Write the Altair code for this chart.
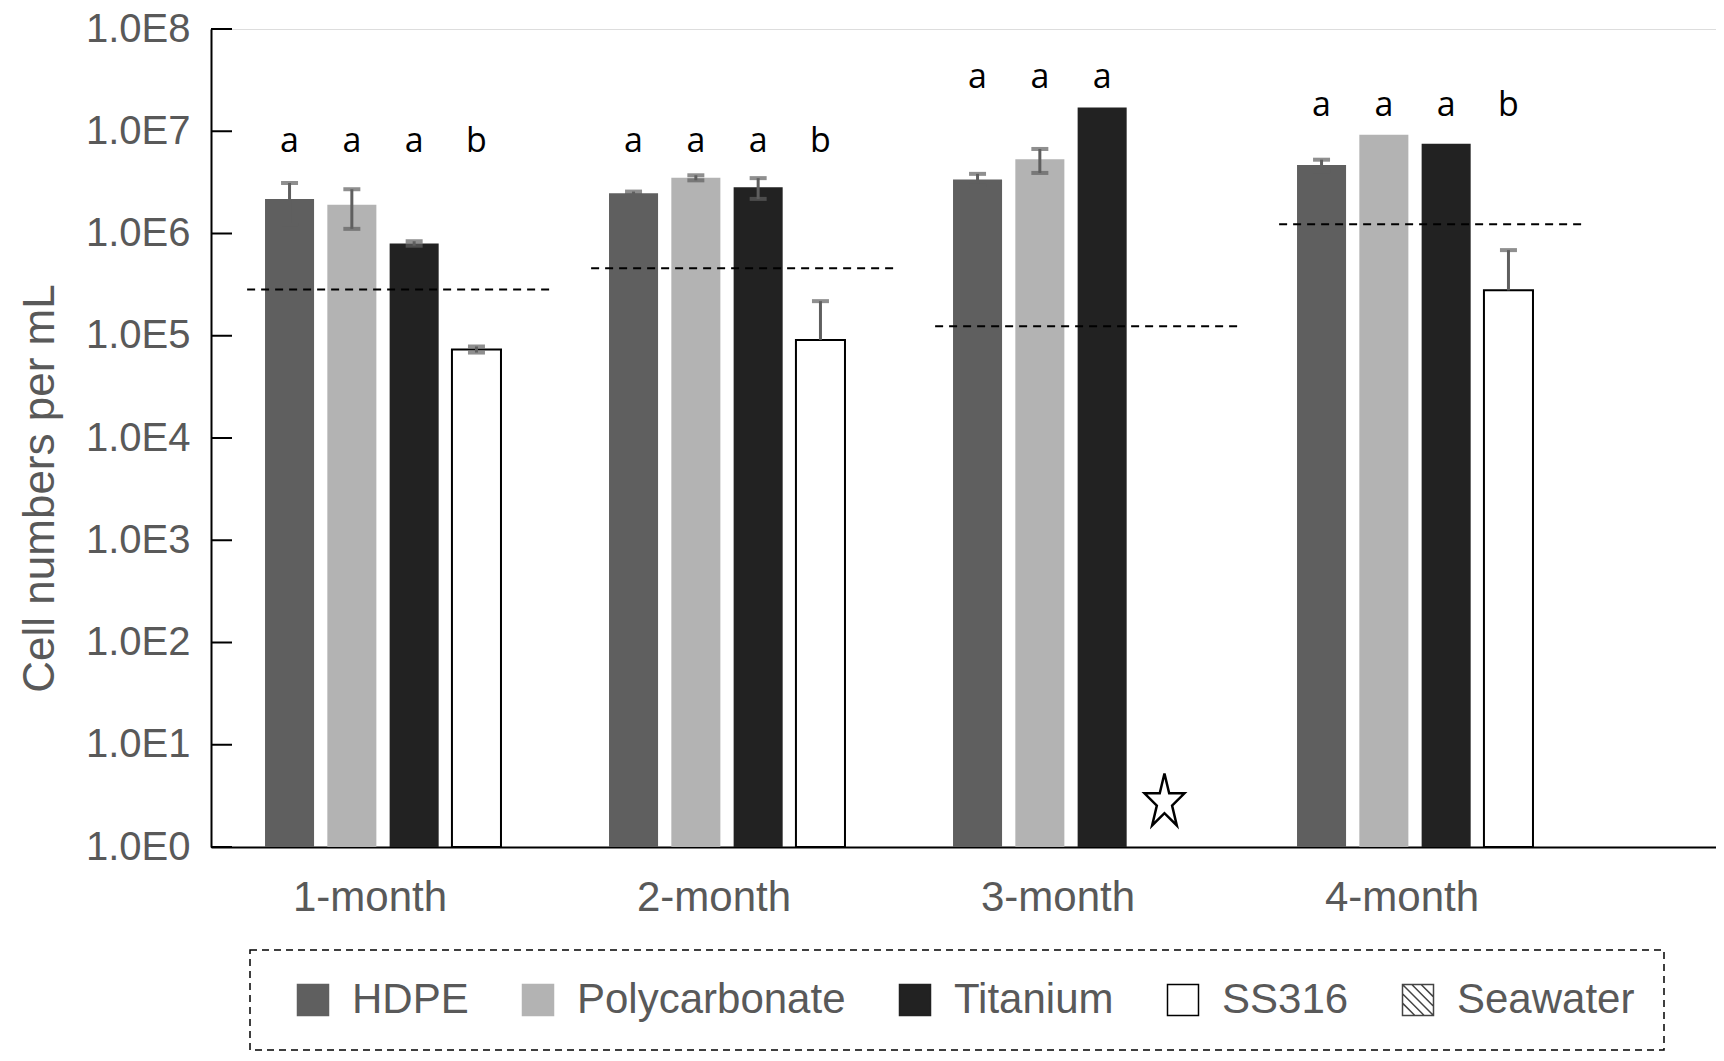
import altair as alt
import pandas as pd

# ---------------- data ----------------
months = ["1-month", "2-month", "3-month", "4-month"]
materials = ["HDPE", "Polycarbonate", "Titanium", "SS316"]
legend_items = ["HDPE", "Polycarbonate", "Titanium", "SS316", "Seawater"]

hdpe_mean = [2.17e6, 2.47e6, 3.38e6, 4.67e6]
pc_mean = [1.91e6, 3.51e6, 5.31e6, 9.25e6]
ti_mean = [8.0e5, 2.83e6, 1.71e7, 7.55e6]
ss_mean = [7.35e4, 9.1e4, None, 2.78e5]

hdpe_err = [0.95e6, 0.1e6, 0.45e6, 0.6e6]
pc_err = [0.8e6, 0.2e6, 1.4e6, 0.0]
ti_err = [0.4e5, 0.65e6, 0.0, 0.0]
ss_err = [0.5e4, 1.27e5, None, 4.1e5]

seawater = [2.84e5, 4.56e5, 1.24e5, 1.23e6]

hdpe_letters = ["a", "a", "a", "a"]
pc_letters = ["a", "a", "a", "a"]
ti_letters = ["a", "a", "a", "a"]
ss_letters = ["b", "b", "", "b"]
letter_y = [6.2e6, 6.3e6, 2.65e7, 1.42e7]

star_month = "3-month"
star_material = "SS316"
star_value = 2.92

y_ticks = [1, 10, 100, 1e3, 1e4, 1e5, 1e6, 1e7, 1e8]

fill_colors = ["#5f5f5f", "#b3b3b3", "#222222", "#ffffff", "#ffffff"]
stroke_colors = ["#5f5f5f", "#b3b3b3", "#222222", "#000000", "#444444"]
hatch = ("M-1,-1L1,-1L1,1L-1,1Z"
         "M-1,-1L1,1"
         "M-0.4,-1L1,0.4"
         "M0.2,-1L1,-0.2"
         "M-1,-0.4L0.4,1"
         "M-1,0.2L-0.2,1")
shapes = ["square", "square", "square", "square", hatch]
star_path = ("M0,-1.238L0.2245,-0.292L0.951,-0.292L0.3633,0.293L0.588,1.238L0,0.654"
             "L-0.588,1.238L-0.3633,0.293L-0.951,-0.292L-0.2245,-0.292Z")

# ---------------- tables ----------------
means = {"HDPE": hdpe_mean, "Polycarbonate": pc_mean, "Titanium": ti_mean, "SS316": ss_mean}
errs = {"HDPE": hdpe_err, "Polycarbonate": pc_err, "Titanium": ti_err, "SS316": ss_err}
lets = {"HDPE": hdpe_letters, "Polycarbonate": pc_letters, "Titanium": ti_letters, "SS316": ss_letters}

bar_rows, err_rows, cap_rows, text_rows = [], [], [], []
for mat in materials:
    for i, mo in enumerate(months):
        v = means[mat][i]
        e = errs[mat][i]
        if v is not None:
            bar_rows.append({"month": mo, "material": mat, "value": v})
            if e:
                hi = v + e
                lo = v - e if v - e > 0 else v
                err_rows.append({"month": mo, "material": mat, "lo": lo, "hi": hi})
                cap_rows.append({"month": mo, "material": mat, "cap": hi})
                if v - e > 0:
                    cap_rows.append({"month": mo, "material": mat, "cap": lo})
        if lets[mat][i]:
            text_rows.append({"month": mo, "material": mat, "letter": lets[mat][i], "ly": letter_y[i]})

bars_df = pd.DataFrame(bar_rows)
err_df = pd.DataFrame(err_rows)
cap_df = pd.DataFrame(cap_rows)
text_df = pd.DataFrame(text_rows)
sea_df = pd.DataFrame({"month": months, "sea": seawater})
star_df = pd.DataFrame([{"month": star_month, "material": star_material, "value": star_value}])
legend_df = pd.DataFrame({"material": legend_items, "value": [1] * len(legend_items)})
tick_df = pd.DataFrame({"t": y_ticks})
frame_df = pd.DataFrame({"k": [0]})

GRAY = "#595959"
FONT = "Liberation Sans"

x_scale = alt.Scale(domain=months, paddingInner=0, paddingOuter=0.1875, align=0)
xo_scale = alt.Scale(domain=materials, paddingInner=0.213, paddingOuter=0.867)
y_scale = alt.Scale(type="log", domain=[1, 1e8], nice=False)
fill_scale = alt.Scale(domain=legend_items, range=fill_colors)
stroke_scale = alt.Scale(domain=legend_items, range=stroke_colors)
shape_scale = alt.Scale(domain=legend_items, range=shapes)

x_axis = alt.Axis(title=None, ticks=False, domainColor="black", domainWidth=2,
                  labelFontSize=42, labelColor=GRAY, labelFont=FONT,
                  labelPadding=30, labelOffset=-13, labelAngle=0)
y_axis = alt.Axis(title="Cell numbers per mL", values=y_ticks, ticks=False, grid=False,
                  domainColor="black", domainWidth=2,
                  labelExpr="'1.0E' + round(log(datum.value)/LN10)",
                  labelFontSize=40, labelColor=GRAY, labelFont=FONT, labelPadding=21,
                  labelFlush=False, labelOverlap=False,
                  titleFontSize=44, titleColor=GRAY, titleFont=FONT, titleFontWeight="normal",
                  titleX=-158, titleY=459, titleBaseline="alphabetic", titleAngle=270)

leg = alt.Legend(orient="none", legendX=51, legendY=920, direction="horizontal",
                 symbolSize=961, symbolStrokeWidth=1.5, symbolOpacity=1,
                 labelFontSize=42, labelColor=GRAY, labelFont=FONT, labelLimit=600,
                 labelOffset=18, columnPadding=48, padding=30)

bars = alt.Chart(bars_df).mark_bar(strokeWidth=2).encode(
    x=alt.X("month:N", scale=x_scale, axis=x_axis, sort=months),
    xOffset=alt.XOffset("material:N", scale=xo_scale),
    y=alt.Y("value:Q", scale=y_scale, axis=y_axis, stack=None),
    fill=alt.Fill("material:N", scale=fill_scale, title=None, legend=leg),
    stroke=alt.condition("datum.material === 'SS316'", alt.value("black"), alt.value("transparent")),
)

sea = alt.Chart(sea_df).mark_rule(color="black", strokeWidth=2, strokeDash=[8, 6]).encode(
    x=alt.X("month:N", bandPosition=0.105),
    x2=alt.X2("month", bandPosition=0.988),
    y=alt.Y("sea:Q"),
)

errbars = alt.Chart(err_df).mark_rule(color="#5f5f5f", strokeWidth=3).encode(
    x=alt.X("month:N"),
    xOffset=alt.XOffset("material:N"),
    y=alt.Y("lo:Q"),
    y2="hi:Q",
)

caps = alt.Chart(cap_df).mark_tick(color="#5f5f5f", thickness=4, size=17, orient="horizontal").encode(
    x=alt.X("month:N"),
    xOffset=alt.XOffset("material:N"),
    y=alt.Y("cap:Q"),
)

letters_layer = alt.Chart(text_df).mark_text(font="Open Sans", fontSize=34, color="black",
                                             baseline="alphabetic").encode(
    x=alt.X("month:N"),
    xOffset=alt.XOffset("material:N"),
    y=alt.Y("ly:Q"),
    text="letter:N",
)

star = alt.Chart(star_df).mark_point(shape=star_path, filled=False, color="black",
                                     strokeWidth=2.5, size=1764, opacity=1).encode(
    x=alt.X("month:N"),
    xOffset=alt.XOffset("material:N"),
    y=alt.Y("value:Q"),
)

yticks = alt.Chart(tick_df).mark_rule(color="black", strokeWidth=2).encode(
    y=alt.Y("t:Q"),
    x=alt.value(0),
    x2=alt.value(21),
)

legend_layer = alt.Chart(legend_df).mark_point(filled=True, opacity=0).encode(
    x=alt.value(-100),
    y=alt.Y("value:Q"),
    fill=alt.Fill("material:N", scale=fill_scale, title=None, legend=leg),
    stroke=alt.Stroke("material:N", scale=stroke_scale, title=None, legend=leg),
    shape=alt.Shape("material:N", scale=shape_scale, title=None, legend=leg),
)

# dashed frame around the legend
frame = alt.Chart(frame_df).mark_rect(filled=False, stroke="black", strokeWidth=1.5,
                                      strokeDash=[7, 5]).encode(
    x=alt.value(39), x2=alt.value(1453),
    y=alt.value(921), y2=alt.value(1021),
)

chart = alt.layer(bars, sea, errbars, caps, letters_layer, star, yticks, legend_layer, frame).properties(
    width=1505, height=818,
    autosize=alt.AutoSizeParams(type="none"),
    padding={"left": 203, "top": 21, "right": 0, "bottom": 206},
).configure_view(stroke=None).configure_axis(grid=False).configure(background="white")

chart.save("out.html", embed_options={"renderer": "svg", "actions": False})
